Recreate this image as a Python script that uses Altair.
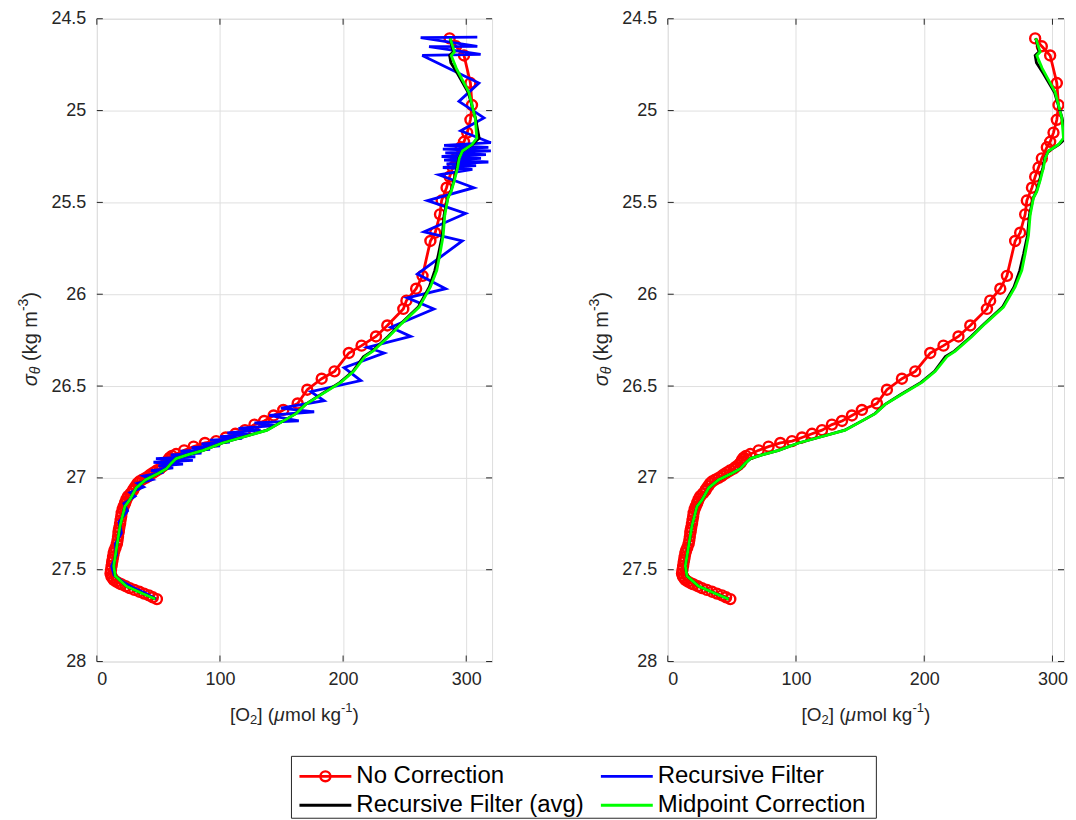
import altair as alt
import pandas as pd

FONT = "Liberation Sans"
TXT = "#262626"
GRID = "#dfdfdf"

# ---------------- data ----------------
red_sigma = [24.607, 24.65, 24.70, 24.85, 24.97, 25.05, 25.12, 25.17, 25.20, 25.26,
             25.31, 25.36, 25.42, 25.49, 25.565, 25.665, 25.71, 25.90, 25.97, 26.035,
             26.08, 26.17, 26.23, 26.28, 26.32, 26.42, 26.46, 26.52, 26.595, 26.63,
             26.66, 26.69, 26.71, 26.74, 26.76, 26.78, 26.80, 26.81, 26.83, 26.85,
             26.87, 26.88, 26.89, 26.90, 26.91, 26.92, 26.93, 26.94, 26.95, 26.96,
             26.97, 26.98, 26.99, 27.00, 27.01, 27.02, 27.03, 27.045, 27.06, 27.07,
             27.085, 27.10, 27.115, 27.13, 27.14, 27.155, 27.17, 27.19, 27.21, 27.23,
             27.25, 27.27, 27.285, 27.30, 27.32, 27.34, 27.36, 27.38, 27.395, 27.41,
             27.43, 27.445, 27.46, 27.48, 27.50, 27.52, 27.535, 27.545, 27.555, 27.565,
             27.575, 27.58, 27.59, 27.60, 27.61, 27.62, 27.63, 27.64, 27.65, 27.66]
red_o2 = [286.5, 291.7, 298.2, 303.4, 304.7, 303.4, 300.8, 298.2, 295.6, 291.7,
          289.1, 286.5, 284.0, 280.0, 278.7, 274.8, 270.9, 264.5, 259.3, 251.4,
          248.9, 235.9, 226.7, 215.0, 204.7, 193.0, 182.6, 170.9, 163.1, 151.4,
          143.6, 135.9, 128.0, 120.3, 112.5, 104.7, 96.9, 87.8, 78.6, 70.9,
          64.4, 61.0, 59.2, 58.0, 57.5, 56.6, 55.0, 53.0, 51.4, 48.5,
          46.2, 44.0, 42.0, 39.7, 37.0, 34.5, 33.0, 31.5, 30.0, 29.3,
          27.5, 25.4, 24.2, 23.3, 22.8, 21.8, 21.0, 20.2, 19.8, 19.3,
          18.9, 18.3, 17.9, 17.6, 17.2, 16.8, 16.3, 15.2, 14.3, 13.7,
          13.2, 12.8, 12.4, 12.0, 11.5, 11.1, 11.8, 12.6, 13.7, 15.8,
          18.3, 20.2, 23.4, 26.7, 30.5, 34.5, 38.4, 42.3, 45.5, 48.8]

blue_sigma = [24.600, 24.603, 24.650, 24.652, 24.694, 24.700, 24.85, 24.95, 25.04, 25.11,
              25.175, 25.19, 25.20, 25.21, 25.22, 25.23, 25.24, 25.25, 25.26, 25.27,
              25.28, 25.29, 25.30, 25.31, 25.32, 25.35, 25.42, 25.49, 25.56, 25.66,
              25.71, 25.89, 25.97, 26.02, 26.08, 26.18, 26.23, 26.29, 26.32, 26.40,
              26.47, 26.53, 26.58, 26.62, 26.64, 26.66, 26.69, 26.70, 26.715, 26.73,
              26.74, 26.755, 26.765, 26.775, 26.785, 26.795, 26.805, 26.815, 26.825, 26.835,
              26.845, 26.855, 26.865, 26.875, 26.885, 26.895, 26.905, 26.915, 26.925, 26.935,
              26.945, 26.96, 26.97, 26.99, 27.01, 27.03, 27.05, 27.08, 27.10, 27.14,
              27.18, 27.24, 27.30, 27.36, 27.42, 27.48, 27.53, 27.57, 27.60, 27.63, 27.66]
blue_o2 = [309.0, 263.0, 309.0, 269.8, 311.7, 264.3, 310.3, 294.1, 314.4, 295.5,
           320.0, 282.0, 318.0, 281.0, 320.0, 283.0, 316.0, 280.0, 312.0, 282.0,
           318.0, 284.0, 308.0, 281.0, 305.0, 277.8, 306.2, 268.5, 299.5, 265.7,
           296.8, 260.3, 283.3, 252.2, 273.7, 238.7, 254.9, 219.7, 233.3, 200.8,
           214.4, 173.8, 184.6, 149.5, 176.5, 140.0, 164.0, 128.0, 145.0, 115.0,
           133.0, 106.0, 125.0, 100.0, 118.0, 92.0, 108.0, 85.0, 100.0, 77.0,
           92.0, 68.0, 85.0, 60.0, 80.0, 48.0, 78.0, 46.0, 70.0, 50.0,
           62.0, 44.0, 54.0, 38.0, 45.0, 33.0, 38.0, 27.0, 31.0, 22.0,
           25.0, 18.0, 20.0, 15.0, 16.0, 12.0, 14.0, 22.0, 30.0, 40.0, 48.0]

avg_sigma = [24.607, 24.68, 24.70, 24.74, 24.80, 24.90, 25.04, 25.15, 25.185, 25.22,
             25.26, 25.31, 25.38, 25.44, 25.475, 25.57, 25.68, 25.78, 25.87, 25.96,
             26.07, 26.16, 26.23, 26.31, 26.34, 26.42, 26.48, 26.545, 26.60, 26.65,
             26.68, 26.74, 26.78, 26.81, 26.85, 26.875, 26.895, 26.92, 26.95, 26.975,
             27.01, 27.055, 27.12, 27.155, 27.26, 27.37, 27.48, 27.535, 27.59, 27.63, 27.66]
avg_o2 = [287.0, 289.5, 286.5, 287.5, 293.0, 301.5, 307.5, 310.5, 305.0, 297.0,
          294.0, 292.5, 290.0, 287.5, 285.0, 282.0, 280.5, 277.5, 274.5, 270.0,
          261.0, 247.0, 236.5, 223.5, 216.5, 208.0, 197.5, 182.0, 169.5, 161.5,
          154.0, 138.0, 117.5, 102.0, 86.4, 73.5, 64.4, 60.5, 56.6, 50.1,
          39.7, 31.9, 26.7, 22.8, 18.9, 16.3, 13.7, 15.0, 24.1, 37.1, 47.5]

mid_sigma = [24.607, 24.68, 24.70, 24.77, 24.90, 25.04, 25.15, 25.185, 25.22, 25.26,
             25.31, 25.38, 25.44, 25.475, 25.57, 25.68, 25.78, 25.87, 25.96, 26.07,
             26.16, 26.23, 26.31, 26.34, 26.42, 26.48, 26.545, 26.60, 26.65, 26.68,
             26.74, 26.78, 26.81, 26.85, 26.875, 26.895, 26.92, 26.95, 26.975, 27.01,
             27.055, 27.12, 27.155, 27.26, 27.37, 27.48, 27.535, 27.59, 27.63, 27.66]
mid_o2 = [287.0, 290.4, 287.8, 292.0, 302.1, 307.3, 308.6, 304.7, 296.9, 294.3,
          293.0, 290.4, 287.8, 285.2, 282.6, 281.3, 278.7, 276.1, 270.9, 261.8,
          247.5, 237.2, 224.2, 217.7, 208.6, 198.2, 182.6, 169.6, 161.8, 154.0,
          138.4, 117.6, 102.0, 86.4, 73.5, 64.4, 60.5, 56.6, 50.1, 39.7,
          31.9, 26.7, 22.8, 18.9, 16.3, 13.7, 15.0, 24.1, 37.1, 47.5]

series_names = ["No Correction", "Recursive Filter", "Recursive Filter (avg)", "Midpoint Correction"]
series_colors = ["#ff0000", "#0000ff", "#000000", "#00ff00"]

x_ticks = [0, 100, 200, 300]
y_ticks = [24.5, 25, 25.5, 26, 26.5, 27, 27.5, 28]
y_range = [24.5, 28]
x_max_left = 321
x_max_right = 309

# ---------------- layout constants ----------------
W_L, W_R, H = 396, 397, 644
TICK = 6
LW = 2.8
MS = 100
MSW = 2.4

one = pd.DataFrame({"k": [0]})

CW = {"[": .278, "]": .278, "O": .778, " ": .278, "(": .333, ")": .333, "m": .833,
      "o": .556, "l": .222, "k": .5, "g": .556, "-": .333, "1": .556, "2": .556,
      "3": .556, "μ": .576, "σ": .6, "θ": .556}


def tw(s, size):
    return sum(CW.get(c, .55) for c in s) * size


def title_layers(pieces, x, y, angle):
    total = sum(tw(t, s) for t, s, _, _ in pieces)
    off = -total / 2
    out = []
    for t, s, shift, ital in pieces:
        lead = len(t) - len(t.lstrip(" "))
        kw = dict(text=t.strip(" "), fontSize=s, align="left", baseline="middle",
                  dx=off + lead * CW[" "] * s, dy=shift, font=FONT, color=TXT)
        if angle:
            kw["angle"] = angle
        if ital:
            kw["fontStyle"] = "italic"
        out.append(alt.Chart(one).mark_text(**kw).encode(x=alt.value(x), y=alt.value(y)))
        off += tw(t, s)
    return out


def mkdf(s, o):
    return pd.DataFrame({"sigma": s, "o2": o, "i": list(range(len(s)))})


def panel(xmax, width, with_blue, with_legend):
    xs = alt.Scale(domain=[0, xmax], nice=False, zero=False)
    ys = alt.Scale(domain=y_range, reverse=True, nice=False, zero=False)
    xaxis = alt.Axis(values=x_ticks, grid=True, gridColor=GRID, domain=False, ticks=False,
                     labelFontSize=18, labelFont=FONT, labelColor=TXT, labelPadding=9)
    yaxis = alt.Axis(values=y_ticks, grid=True, gridColor=GRID, domain=False, ticks=False,
                     labelFontSize=18, labelFont=FONT, labelColor=TXT, labelPadding=11,
                     labelExpr="datum.value + ''")
    red = mkdf(red_sigma, red_o2)
    X = alt.X("o2:Q", title=None)
    Y = alt.Y("sigma:Q", title=None)
    layers = [
        alt.Chart(red).mark_line(color=series_colors[0], strokeWidth=LW, clip=True).encode(
            x=alt.X("o2:Q", scale=xs, axis=xaxis, title=None),
            y=alt.Y("sigma:Q", scale=ys, axis=yaxis, title=None),
            order="i:Q"),
        alt.Chart(red).mark_point(shape="circle", filled=False, color=series_colors[0],
                                  strokeWidth=MSW, size=MS, opacity=1, clip=True).encode(x=X, y=Y),
    ]
    if with_blue:
        layers.append(alt.Chart(mkdf(blue_sigma, blue_o2)).mark_line(
            color=series_colors[1], strokeWidth=LW, clip=True).encode(x=X, y=Y, order="i:Q"))
    layers.append(alt.Chart(mkdf(avg_sigma, avg_o2)).mark_line(
        color=series_colors[2], strokeWidth=LW, clip=True).encode(x=X, y=Y, order="i:Q"))
    layers.append(alt.Chart(mkdf(mid_sigma, mid_o2)).mark_line(
        color=series_colors[3], strokeWidth=LW, clip=True).encode(x=X, y=Y, order="i:Q"))

    # inward tick marks on all four sides
    xt = pd.DataFrame({"o2": x_ticks})
    yt = pd.DataFrame({"sigma": y_ticks})
    layers += [
        alt.Chart(xt).mark_rule(color=TXT, strokeWidth=1).encode(x=X, y=alt.value(H), y2=alt.value(H - TICK)),
        alt.Chart(xt).mark_rule(color=TXT, strokeWidth=1).encode(x=X, y=alt.value(0), y2=alt.value(TICK)),
        alt.Chart(yt).mark_rule(color=TXT, strokeWidth=1).encode(y=Y, x=alt.value(0), x2=alt.value(TICK)),
        alt.Chart(yt).mark_rule(color=TXT, strokeWidth=1).encode(y=Y, x=alt.value(width), x2=alt.value(width - TICK)),
    ]

    # axis titles with sub/superscripts
    layers += title_layers([("[O", 19, 0, False), ("2", 13, 5, False), ("] (", 19, 0, False),
                            ("μ", 19, 0, True), ("mol kg", 19, 0, False), ("-1", 13, -7, False),
                            (")", 19, 0, False)], width / 2, 698, None)
    layers += title_layers([("σ", 20, 0, True), ("θ", 14, 5, True), (" (kg m", 20, 0, False),
                            ("-3", 14, -7, False), (")", 20, 0, False)], -66, 321, 270)

    if with_legend:
        bx0, bx1, by0, by1 = 195, 781, 739, 801
        layers.append(alt.Chart(one).mark_rect(fill="white", stroke=TXT, strokeWidth=1).encode(
            x=alt.value(bx0), x2=alt.value(bx1), y=alt.value(by0), y2=alt.value(by1)))
        for i, (nm, colr) in enumerate(zip(series_names, series_colors)):
            col, row = i % 2, i // 2
            x0 = 203 + col * 302
            yy = 759 + row * 29
            layers.append(alt.Chart(one).mark_rule(color=colr, strokeWidth=LW).encode(
                x=alt.value(x0), x2=alt.value(x0 + 52), y=alt.value(yy)))
            if i == 0:
                layers.append(alt.Chart(one).mark_point(shape="circle", filled=False, color=colr,
                                                        strokeWidth=MSW, size=MS, opacity=1).encode(
                    x=alt.value(x0 + 26), y=alt.value(yy)))
            layers.append(alt.Chart(one).mark_text(text=nm, align="left", baseline="middle",
                                                   fontSize=24, font=FONT, color="#000000").encode(
                x=alt.value(x0 + 57), y=alt.value(yy)))

    return alt.layer(*layers).properties(width=width, height=H)


left = panel(x_max_left, W_L, True, True)
right = panel(x_max_right, W_R, False, False)

chart = alt.hconcat(left, right, spacing=176, bounds="flush").properties(
    padding={"left": 8, "top": 0, "right": 0, "bottom": 0}
).configure_view(stroke=TXT, strokeWidth=1).configure(font=FONT)

chart.save("out.html", embed_options={"renderer": "svg", "actions": False})
